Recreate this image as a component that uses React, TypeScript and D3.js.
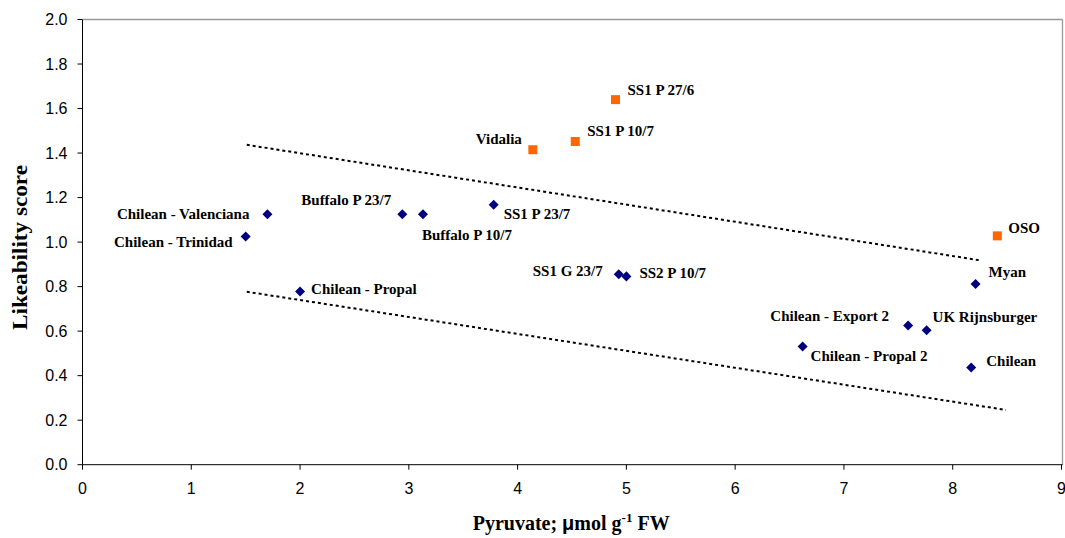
import React from "react";
import * as d3 from "d3";

// Onion cultivars: pyruvate (µmol/g FW) vs likeability score
const blueNames = [
  "Chilean - Valenciana",
  "Chilean - Trinidad",
  "Buffalo P 23/7",
  "Buffalo P 10/7",
  "SS1 P 23/7",
  "Chilean - Propal",
  "SS1 G 23/7",
  "SS2 P 10/7",
  "Chilean - Export 2",
  "UK Rijnsburger",
  "Chilean - Propal 2",
  "Myan",
  "Chilean",
];
const blueX = [1.7, 1.5, 2.94, 3.13, 3.78, 2.0, 4.93, 5.0, 7.59, 7.76, 6.62, 8.21, 8.17];
const blueY = [1.125, 1.025, 1.125, 1.125, 1.168, 0.778, 0.856, 0.846, 0.625, 0.604, 0.531, 0.812, 0.437];

const orangeNames = ["SS1 P 27/6", "SS1 P 10/7", "Vidalia", "OSO"];
const orangeX = [4.9, 4.53, 4.14, 8.41];
const orangeY = [1.64, 1.452, 1.415, 1.028];

// Dotted guide lines (start / end)
const upperLineX = [1.51, 8.24];
const upperLineY = [1.437, 0.919];
const lowerLineX = [1.51, 8.49];
const lowerLineY = [0.777, 0.246];

const xTicks = [0, 1, 2, 3, 4, 5, 6, 7, 8, 9];
const yTicks = [0, 0.2, 0.4, 0.6, 0.8, 1.0, 1.2, 1.4, 1.6, 1.8, 2.0];

// Label placement relative to each marker: [dx, dy, anchor]
const labelPlacement: Record<string, [number, number, string]> = {
  "Chilean - Valenciana": [-18, 5, "end"],
  "Chilean - Trinidad": [-13, 10, "end"],
  "Buffalo P 23/7": [-11, -9, "end"],
  "Buffalo P 10/7": [-1, 26, "start"],
  "SS1 P 23/7": [10, 14, "start"],
  "Chilean - Propal": [11, 2, "start"],
  "SS1 G 23/7": [-16, 2, "end"],
  "SS2 P 10/7": [13, 2, "start"],
  "Chilean - Export 2": [-19, -4.5, "end"],
  "UK Rijnsburger": [6, -8.5, "start"],
  "Chilean - Propal 2": [8, 15, "start"],
  Myan: [13, -7, "start"],
  Chilean: [15, -1, "start"],
  "SS1 P 27/6": [12, -5, "start"],
  "SS1 P 10/7": [12, -5, "start"],
  Vidalia: [-11, -6, "end"],
  OSO: [11, -2.5, "start"],
};

const W = 1065;
const H = 538;
const left = 82.5;
const right = 1061.5;
const top = 19.5;
const bottom = 464.7;

export default function App() {
  const x = d3.scaleLinear().domain([0, 9]).range([left, right]);
  const y = d3.scaleLinear().domain([0, 2]).range([bottom, top]);

  const line = d3
    .line<[number, number]>()
    .x((d) => x(d[0]))
    .y((d) => y(d[1]));

  const upper: [number, number][] = upperLineX.map((v, i) => [v, upperLineY[i]]);
  const lower: [number, number][] = lowerLineX.map((v, i) => [v, lowerLineY[i]]);

  const diamond = d3.symbol().type(d3.symbolDiamond2).size(64)();
  const labelFont = "'Liberation Serif', 'Times New Roman', serif";
  const tickFont = "'Liberation Sans', Arial, sans-serif";

  const label = (name: string, px: number, py: number) => {
    const [dx, dy, anchor] = labelPlacement[name];
    return (
      <text
        key={"l" + name}
        x={px + dx}
        y={py + dy}
        textAnchor={anchor as any}
        fontFamily={labelFont}
        fontWeight="bold"
        fontSize={15}
        fill="#000"
      >
        {name}
      </text>
    );
  };

  return (
    <svg
      width={W}
      height={H}
      style={{ position: "absolute", left: 0, top: 0, background: "#fff" }}
    >
      {/* frame */}
      <line x1={left} x2={1062.5} y1={top} y2={top} stroke="#999" strokeWidth={1.3} />
      <line x1={1062.5} x2={1062.5} y1={top} y2={bottom} stroke="#999" strokeWidth={1.3} />
      <line x1={left} x2={1062.5} y1={bottom} y2={bottom} stroke="#000" strokeWidth={1} />
      <line x1={left} x2={left} y1={top} y2={bottom} stroke="#000" strokeWidth={1} />

      {/* y axis */}
      {yTicks.map((t) => (
        <g key={"y" + t}>
          <line x1={left - 5} x2={left} y1={y(t)} y2={y(t)} stroke="#000" />
          <text
            x={left - 15}
            y={y(t)}
            dy="0.36em"
            textAnchor="end"
            fontFamily={tickFont}
            fontSize={16}
            fill="#000"
          >
            {t.toFixed(1)}
          </text>
        </g>
      ))}

      {/* x axis */}
      {xTicks.map((t) => (
        <g key={"x" + t}>
          <line x1={x(t)} x2={x(t)} y1={bottom} y2={bottom + 5} stroke="#000" />
          <text
            x={x(t)}
            y={bottom + 29}
            textAnchor="middle"
            fontFamily={tickFont}
            fontSize={16}
            fill="#000"
          >
            {t}
          </text>
        </g>
      ))}

      {/* axis titles */}
      <text
        transform={`translate(27,247.5) rotate(-90)`}
        textAnchor="middle"
        fontFamily={labelFont}
        fontWeight="bold"
        fontSize={20}
        textLength={165}
        lengthAdjust="spacingAndGlyphs"
      >
        Likeability score
      </text>
      <text
        x={472.7}
        y={530}
        fontFamily={labelFont}
        fontWeight="bold"
        fontSize={20}
      >
        Pyruvate;{" "}
        <tspan fontFamily="'Liberation Sans', Arial, sans-serif">μ</tspan>mol g
        <tspan dy={-8} fontSize={13}>
          -1
        </tspan>
        <tspan dy={8}> FW</tspan>
      </text>

      {/* dotted guide lines */}
      <path d={line(upper) || ""} fill="none" stroke="#000" strokeWidth={2} strokeDasharray="3 3" />
      <path d={line(lower) || ""} fill="none" stroke="#000" strokeWidth={2} strokeDasharray="3 3" />

      {/* blue diamonds */}
      {blueNames.map((n, i) => (
        <path
          key={"b" + n}
          d={diamond || ""}
          transform={`translate(${x(blueX[i])},${y(blueY[i])})`}
          fill="#000080"
        />
      ))}

      {/* orange squares */}
      {orangeNames.map((n, i) => (
        <rect
          key={"o" + n}
          x={x(orangeX[i]) - 4.5}
          y={y(orangeY[i]) - 4.5}
          width={9}
          height={9}
          fill="#FF6600"
        />
      ))}

      {blueNames.map((n, i) => label(n, x(blueX[i]), y(blueY[i])))}
      {orangeNames.map((n, i) => label(n, x(orangeX[i]), y(orangeY[i])))}
    </svg>
  );
}
